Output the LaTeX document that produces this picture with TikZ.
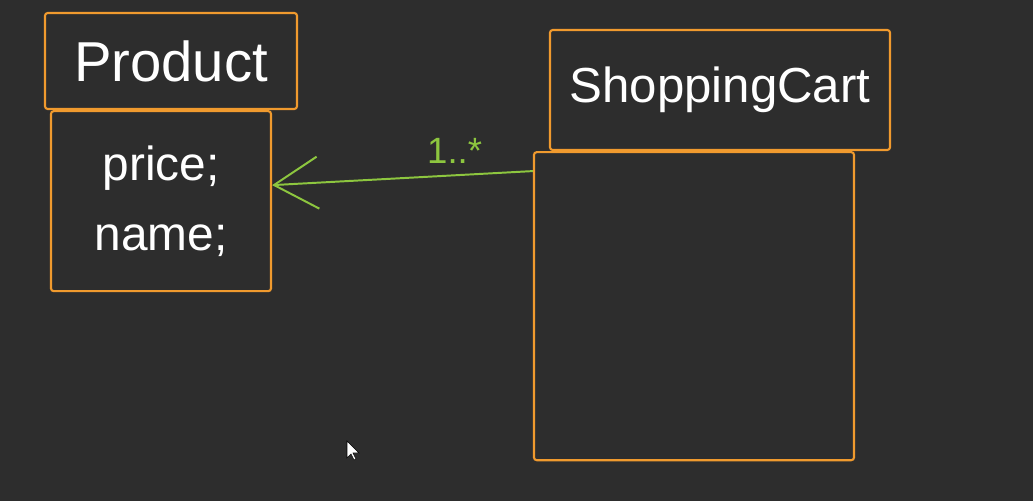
\documentclass[tikz,border=0pt]{standalone}
\usepackage{fontspec}
\setmainfont{Liberation Sans}
\usetikzlibrary{arrows.meta,positioning}
\definecolor{Board}{HTML}{2D2D2D}
\definecolor{Marker}{HTML}{F09A2E}
\definecolor{Chalk}{HTML}{8DC63F}

\begin{document}
\begin{tikzpicture}[x=0.025cm, y=-0.025cm,
  head/.style={draw=Marker, line width=1.5pt, rounded corners=2pt, text=white, inner sep=0pt, font=\fontsize{40}{40}\selectfont},
  body/.style={draw=Marker, line width=1.5pt, rounded corners=2pt, text=white, align=center, font=\fontsize{34}{50}\selectfont},
  assoc/.style={draw=Chalk, line width=1.4pt, -{Straight Barb[length=1.1cm, width=1.3cm, line width=1.4pt]}}
]
\fill[Board] (0,0) rectangle (1033,501);
\useasboundingbox (0,0) rectangle (1033,501);
% classes
\node[head, minimum width=6.3cm, minimum height=2.4cm] (prodHead) at (171,61) {Product};
\node[body, minimum width=5.5cm, minimum height=4.5cm, below=0pt of prodHead.south west, anchor=north west, xshift=0.15cm] (prodBody) {price;\\name;};
\node[head, minimum width=8.5cm, minimum height=3cm, font=\fontsize{35}{35}\selectfont] (cartHead) at (720,90) {ShoppingCart};
\node[body, minimum width=8cm, minimum height=7.7cm, below=0pt of cartHead.south west, anchor=north west, xshift=-0.4cm] (cartBody) {};
% association
\draw[assoc] ([yshift=-0.5cm]cartBody.north west) -- node[above=0.15cm, pos=0.3, text=Chalk, font=\fontsize{26}{26}\selectfont] (mult) {1..*} ([yshift=0.4cm]prodBody.east);
% pointer
\filldraw[fill=white, draw=black, line width=0.4pt] (347,441) -- (347,458) -- (351,454) -- (354,460) -- (356,459) -- (353,453) -- (359,453) -- cycle;
\end{tikzpicture}
\end{document}
